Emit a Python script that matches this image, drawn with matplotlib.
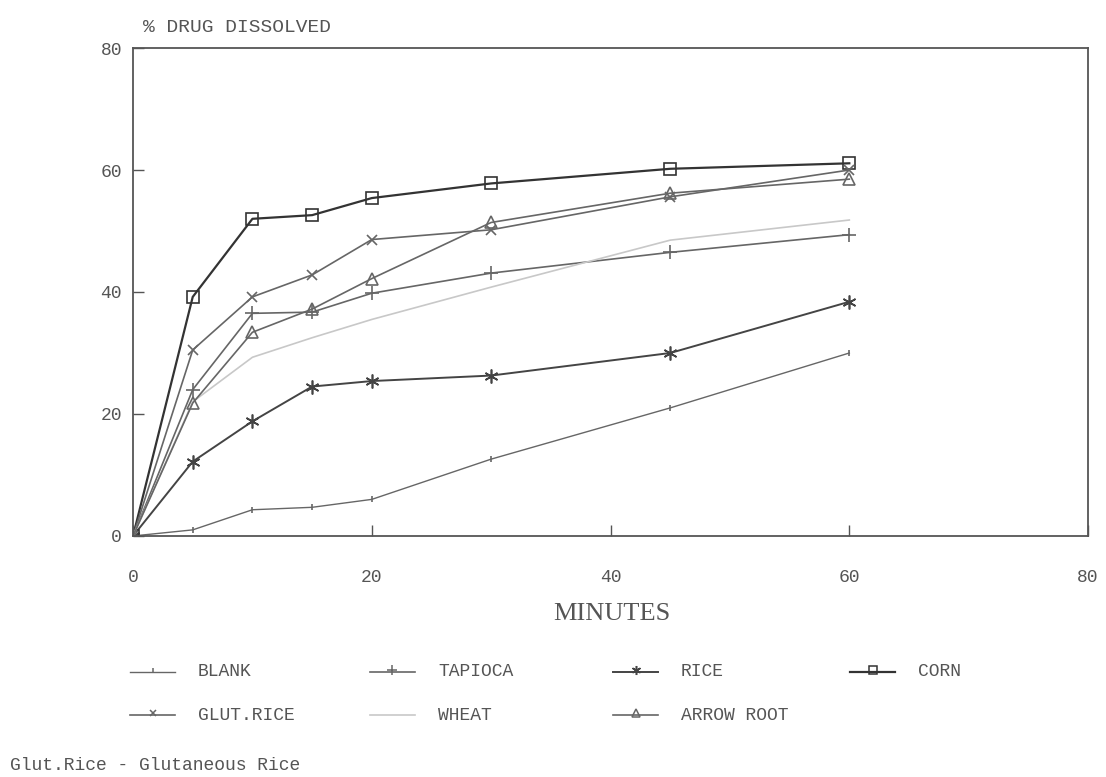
import numpy as np
import matplotlib
matplotlib.use('Agg')
import matplotlib.pyplot as plt
from matplotlib.lines import Line2D

# time points (minutes) and % drug dissolved
minutes = [0, 5, 10, 15, 20, 30, 45, 60]
blank = [0, 1, 4.3, 4.7, 6, 12.6, 21, 30]
tapioca = [0, 24, 36.5, 36.7, 39.8, 43.1, 46.5, 49.4]
rice = [0, 12.2, 18.8, 24.5, 25.4, 26.3, 30, 38.4]
corn = [0, 39.2, 52, 52.6, 55.4, 57.8, 60.2, 61.1]
glut_rice = [0, 30.5, 39.2, 42.8, 48.6, 50.2, 55.6, 60]
wheat = [0, 22, 29.3, 32.5, 35.5, 40.8, 48.5, 51.8]
arrow_root = [0, 21.8, 33.4, 37.2, 42.2, 51.4, 56.2, 58.5]

x_ticks = [0, 20, 40, 60, 80]
y_ticks = [0, 20, 40, 60, 80]

SERIF = 'Liberation Serif'
MONO = 'Liberation Mono'
TXT = '#555555'

series = [
    # label, values, color, marker, markersize, lw
    ('BLANK', blank, '#666666', '|', 5, 1.0),
    ('TAPIOCA', tapioca, '#666666', '+', 10, 1.2),
    ('RICE', rice, '#444444', (6, 2, 0), 10, 1.4),
    ('CORN', corn, '#333333', 's', 8, 1.6),
    ('GLUT.RICE', glut_rice, '#666666', 'x', 7, 1.2),
    ('WHEAT', wheat, '#c8c8c8', None, 0, 1.2),
    ('ARROW ROOT', arrow_root, '#666666', '^', 8, 1.2),
]

fig = plt.figure(figsize=(11.06, 7.77), dpi=100)
ax = fig.add_axes([0.1203, 0.3102, 0.8635, 0.628])

for label, vals, color, marker, ms, lw in series:
    ax.plot(minutes, vals, color=color, lw=lw, marker=marker, ms=ms,
            mfc='none', mec=color, mew=1.2)

ax.set_xlim(0, 80)
ax.set_ylim(0, 80)
ax.set_xticks(x_ticks)
ax.set_yticks(y_ticks)
ax.tick_params(axis='both', direction='in', length=8, width=1, color='#555555',
               labelcolor=TXT, labelsize=13)
ax.tick_params(axis='x', pad=24)
ax.tick_params(axis='y', pad=8)
for lab in ax.get_xticklabels() + ax.get_yticklabels():
    lab.set_fontfamily(MONO)
for sp in ax.spines.values():
    sp.set_color('#555555')
    sp.set_linewidth(1.3)

fig.text(143 / 1106, 1 - 27 / 777, '% DRUG DISSOLVED', family=MONO, fontsize=14,
         color=TXT, va='center', ha='left')
fig.text(612 / 1106, 1 - 614 / 777, 'MINUTES', family=SERIF, fontsize=19,
         color=TXT, va='center', ha='center')

# legend laid out in a fixed grid like the original
col_x = [130, 370, 613, 850]
row_y = [672, 715]
for i, (label, vals, color, marker, ms, lw) in enumerate(series):
    r, c = divmod(i, 4)
    x0 = col_x[c] / 1106
    x1 = (col_x[c] + 45) / 1106
    y = 1 - row_y[r] / 777
    fig.add_artist(Line2D([x0, x1], [y, y], color=color, lw=lw,
                          transform=fig.transFigure))
    if marker is not None:
        fig.add_artist(Line2D([(x0 + x1) / 2], [y + 0.003], color=color, marker=marker,
                              ms=ms * 0.65, mfc='none', mec=color, mew=1.1,
                              transform=fig.transFigure))
    fig.text((col_x[c] + 68) / 1106, y, label, family=MONO, fontsize=13,
             color=TXT, va='center', ha='left')

fig.text(10 / 1106, 1 - 765 / 777, 'Glut.Rice - Glutaneous Rice', family=MONO,
         fontsize=13, color=TXT, va='center', ha='left')

fig.savefig('out.png', dpi=100, facecolor='white')
